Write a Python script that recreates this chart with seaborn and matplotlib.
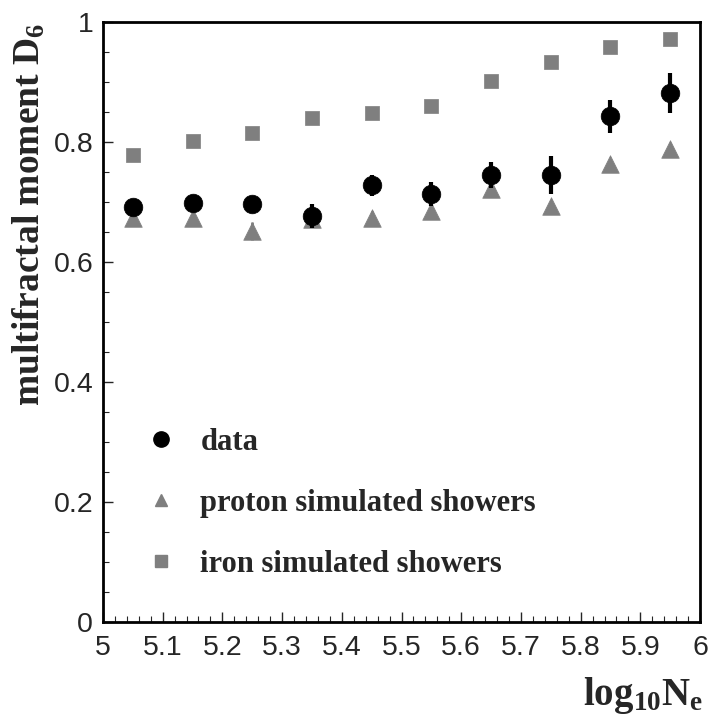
import numpy as np
import pandas as pd
import matplotlib
matplotlib.use("Agg")
import matplotlib.pyplot as plt
import seaborn as sns
from matplotlib.lines import Line2D
from matplotlib.ticker import MultipleLocator

# ---- data ----
log_ne = [5.05, 5.15, 5.25, 5.35, 5.45, 5.55, 5.65, 5.75, 5.85, 5.95]
data_d6 = [0.692, 0.698, 0.697, 0.677, 0.728, 0.713, 0.745, 0.745, 0.843, 0.882]
data_err = [0.010, 0.010, 0.013, 0.020, 0.017, 0.020, 0.022, 0.032, 0.028, 0.033]
proton_d6 = [0.673, 0.673, 0.652, 0.672, 0.673, 0.685, 0.722, 0.693, 0.763, 0.789]
proton_err = [0.008, 0.008, 0.015, 0.008, 0.012, 0.010, 0.010, 0.010, 0.008, 0.010]
iron_d6 = [0.779, 0.802, 0.815, 0.840, 0.848, 0.860, 0.902, 0.933, 0.958, 0.972]

labels = ["data", "proton simulated showers", "iron simulated showers"]
x_ticks = [5.0, 5.1, 5.2, 5.3, 5.4, 5.5, 5.6, 5.7, 5.8, 5.9, 6.0]
x_ticklabels = ["5", "5.1", "5.2", "5.3", "5.4", "5.5", "5.6", "5.7", "5.8", "5.9", "6"]
y_ticks = [0, 0.2, 0.4, 0.6, 0.8, 1.0]
y_ticklabels = ["0", "0.2", "0.4", "0.6", "0.8", "1"]

sns.set_style("ticks")
plt.rcParams["font.family"] = ["Liberation Sans", "DejaVu Sans"]
plt.rcParams["mathtext.fontset"] = "custom"
plt.rcParams["mathtext.rm"] = "Liberation Serif:bold"
plt.rcParams["mathtext.it"] = "Liberation Serif:bold"
plt.rcParams["mathtext.bf"] = "Liberation Serif:bold"

fig = plt.figure(figsize=(7.1, 7.15), dpi=100)
ax = fig.add_axes([0.145, 0.130, 0.841, 0.839])

GRAY = "#7f7f7f"

df_iron = pd.DataFrame({"x": log_ne, "y": iron_d6})
df_prot = pd.DataFrame({"x": log_ne, "y": proton_d6})
df_data = pd.DataFrame({"x": log_ne, "y": data_d6})

sns.scatterplot(data=df_iron, x="x", y="y", marker="s", s=115, color=GRAY,
                edgecolor=GRAY, linewidth=0.5, ax=ax, zorder=3)
ax.errorbar(log_ne, proton_d6, yerr=proton_err, fmt="none", ecolor=GRAY,
            elinewidth=2, capsize=0, zorder=3)
sns.scatterplot(data=df_prot, x="x", y="y", marker="^", s=160, color=GRAY,
                edgecolor=GRAY, linewidth=0.5, ax=ax, zorder=4)
ax.errorbar(log_ne, data_d6, yerr=data_err, fmt="none", ecolor="black",
            elinewidth=3, capsize=0, zorder=5)
sns.scatterplot(data=df_data, x="x", y="y", marker="o", s=180, color="black",
                edgecolor="black", linewidth=0.5, ax=ax, zorder=6)

ax.set_xlim(5, 6)
ax.set_ylim(0, 1)
ax.set_xticks(x_ticks)
ax.set_xticklabels(x_ticklabels)
ax.set_yticks(y_ticks)
ax.set_yticklabels(y_ticklabels)
ax.xaxis.set_minor_locator(MultipleLocator(0.02))
ax.yaxis.set_minor_locator(MultipleLocator(0.05))
ax.tick_params(axis="both", which="major", direction="in", length=7, width=1,
               labelsize=20.5)
ax.tick_params(axis="x", which="major", pad=9)
ax.tick_params(axis="y", which="major", pad=7)
ax.tick_params(axis="both", which="minor", direction="in", length=4, width=0.8)

for side in ["left", "bottom", "top", "right"]:
    ax.spines[side].set_visible(True)
    ax.spines[side].set_linewidth(2)
    ax.spines[side].set_color("black")

ax.set_xlabel(r"log$_{10}$N$_{\mathrm{e}}$", fontsize=28, fontweight="bold",
              family="Liberation Serif")
ax.xaxis.set_label_coords(1.005, -0.088, transform=ax.transAxes)
ax.xaxis.label.set_horizontalalignment("right")
ax.xaxis.label.set_verticalalignment("top")
ax.set_ylabel(r"multifractal moment D$_{6}$", fontsize=27, fontweight="bold",
              family="Liberation Serif", loc="top", labelpad=4)

handles = [
    Line2D([], [], marker="o", color="black", linestyle="none", markersize=11),
    Line2D([], [], marker="^", color=GRAY, linestyle="none", markersize=8),
    Line2D([], [], marker="s", color=GRAY, linestyle="none", markersize=8),
]
leg = ax.legend(handles, labels, loc="upper left", bbox_to_anchor=(0.025, 0.37),
                frameon=False, handlelength=1.0, handletextpad=0.8,
                labelspacing=1.05,
                prop={"family": "Liberation Serif", "weight": "bold", "size": 22})

fig.savefig("out.png", dpi=100)
